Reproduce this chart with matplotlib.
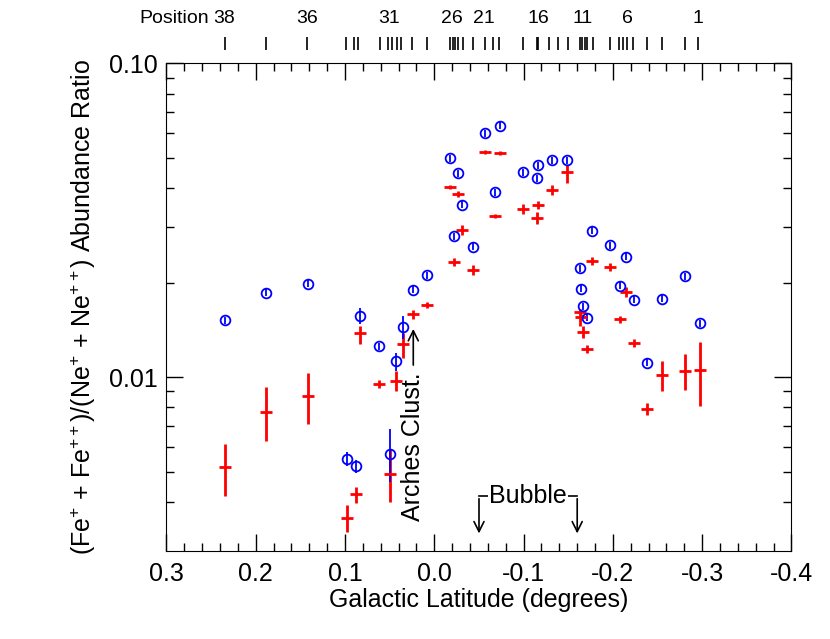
import matplotlib
matplotlib.use('Agg')
import matplotlib.pyplot as plt
from matplotlib.ticker import FixedLocator, FixedFormatter, NullFormatter, MultipleLocator

plt.rcParams['font.family'] = ['Liberation Sans', 'DejaVu Sans']
plt.rcParams['mathtext.fontset'] = 'custom'
plt.rcParams['mathtext.rm'] = 'Liberation Sans'
plt.rcParams['mathtext.it'] = 'Liberation Sans:italic'
plt.rcParams['mathtext.bf'] = 'Liberation Sans:bold'
plt.rcParams['axes.unicode_minus'] = False

# galactic latitude of positions 1..38
lat = [-0.297, -0.281, -0.255, -0.238, -0.224, -0.215, -0.208, -0.197, -0.177, -0.171,
       -0.167, -0.164, -0.163, -0.149, -0.132, -0.116, -0.115, -0.099, -0.074, -0.068,
       -0.057, -0.043, -0.031, -0.026, -0.022, -0.017, 0.008, 0.024, 0.035, 0.043,
       0.050, 0.062, 0.083, 0.088, 0.098, 0.142, 0.189, 0.235]

# blue circles
blue = [0.01485, 0.02096, 0.0178, 0.01111, 0.01763, 0.0242, 0.01957, 0.02629, 0.02928, 0.01545,
        0.01682, 0.0191, 0.02222, 0.04914, 0.04914, 0.04737, 0.04295, 0.04488, 0.06333, 0.03877,
        0.0599, 0.02604, 0.03541, 0.04467, 0.02809, 0.04986, 0.02111, 0.01897, 0.01447, 0.01124,
        0.005706, 0.01252, 0.01563, 0.005188, 0.005472, 0.01986, 0.01855, 0.01518]
blue_lo = [0.01447, 0.02043, 0.01735, 0.01083, 0.01718, 0.02359, 0.01907, 0.02562, 0.02854, 0.01506,
           0.01639, 0.01862, 0.02166, 0.0479, 0.0479, 0.04617, 0.04186, 0.04374, 0.06172, 0.03779,
           0.05838, 0.02538, 0.03451, 0.04354, 0.02738, 0.0486, 0.02057, 0.01849, 0.01318, 0.01045,
           0.004614, 0.0122, 0.01471, 0.00496, 0.00521, 0.01936, 0.01808, 0.0148]
blue_hi = [0.01524, 0.0215, 0.01826, 0.0114, 0.01809, 0.02483, 0.02008, 0.02697, 0.03004, 0.01585,
           0.01726, 0.0196, 0.0228, 0.05042, 0.05042, 0.0486, 0.04407, 0.04605, 0.06498, 0.03978,
           0.06146, 0.02672, 0.03633, 0.04583, 0.02882, 0.05116, 0.02166, 0.01946, 0.01563, 0.01196,
           0.006818, 0.01285, 0.01662, 0.00543, 0.00576, 0.02038, 0.01903, 0.01558]

# red crosses
red = [0.01053, 0.01045, 0.01012, 0.00793, 0.01287, 0.01869, 0.01526, 0.02245, 0.02342, 0.01225,
       0.01394, 0.01552, 0.0161, 0.04488, 0.03934, 0.03541, 0.03214, 0.03432, 0.05172, 0.03252,
       0.05211, 0.02196, 0.0295, 0.0384, 0.02328, 0.04021, 0.01699, 0.01583, 0.01271, 0.00974,
       0.0049, 0.00948, 0.01384, 0.00423, 0.00356, 0.00868, 0.00776, 0.00515]
red_lo = [0.00809, 0.00909, 0.00901, 0.00759, 0.0125, 0.01802, 0.01482, 0.0218, 0.02274, 0.0119,
          0.01334, 0.01518, 0.01453, 0.04153, 0.03793, 0.03439, 0.03076, 0.03309, 0.05097, 0.03205,
          0.05135, 0.02117, 0.02844, 0.03757, 0.02261, 0.03962, 0.01662, 0.01537, 0.01152, 0.00903,
          0.00399, 0.00921, 0.01278, 0.00397, 0.00321, 0.00707, 0.00625, 0.00417]
red_hi = [0.01292, 0.01181, 0.01122, 0.00829, 0.01325, 0.01939, 0.01571, 0.02312, 0.02412, 0.01261,
          0.01457, 0.01587, 0.01648, 0.04747, 0.04081, 0.03646, 0.03359, 0.0356, 0.05249, 0.033,
          0.05288, 0.02278, 0.0306, 0.03925, 0.02397, 0.0408, 0.01737, 0.0163, 0.01384, 0.01045,
          0.00589, 0.00976, 0.0146, 0.00447, 0.00391, 0.01033, 0.00932, 0.00614]

# slit position marks along the top
pos_ticks = [0.2345, 0.1886, 0.1427, 0.0993, 0.090, 0.0852, 0.0609, 0.0523, 0.0471, 0.0422,
             0.0374, 0.0254, 0.0080, -0.0175, -0.0205, -0.0234, -0.0261, -0.0324, -0.0436, -0.0567,
             -0.066, -0.0727, -0.0989, -0.1146, -0.116, -0.1287, -0.1387, -0.1499, -0.163, -0.1656,
             -0.1683, -0.1712, -0.1773, -0.1966, -0.2071, -0.2115, -0.216, -0.2227, -0.2384, -0.2545,
             -0.2806, -0.2955]
pos_label_lat = [0.235, 0.143, 0.051, -0.020, -0.056, -0.116, -0.166, -0.216, -0.295]
pos_labels = ['38', '36', '31', '26', '21', '16', '11', '6', '1']

xticks = [0.3, 0.2, 0.1, 0.0, -0.1, -0.2, -0.3, -0.4]
xticklabels = ['0.3', '0.2', '0.1', '0.0', '-0.1', '-0.2', '-0.3', '-0.4']
yticks = [0.01, 0.1]
yticklabels = ['0.01', '0.10']
yminor = [0.004, 0.005, 0.006, 0.007, 0.008, 0.009, 0.02, 0.03, 0.04, 0.05, 0.06, 0.07, 0.08, 0.09]

fig = plt.figure(figsize=(8.3, 6.39), dpi=100)
ax = fig.add_axes([0.2006, 0.1377, 0.753, 0.7632])

blue_err = [[b - l for b, l in zip(blue, blue_lo)], [h - b for b, h in zip(blue, blue_hi)]]
red_err = [[r - l for r, l in zip(red, red_lo)], [h - r for r, h in zip(red, red_hi)]]

ax.errorbar(lat, red, yerr=red_err, fmt='_', color='red', ms=9, mew=2,
            elinewidth=2, capsize=0)
ax.errorbar(lat, blue, yerr=blue_err, fmt='o', mfc='none', mec='blue', ecolor='blue',
            ms=7, mew=1.3, elinewidth=1.3, capsize=0)

ax.set_yscale('log')
ax.set_xlim(0.3, -0.4)
ax.set_ylim(0.00279, 0.1)

ax.xaxis.set_major_locator(FixedLocator(xticks))
ax.xaxis.set_major_formatter(FixedFormatter(xticklabels))
ax.xaxis.set_minor_locator(MultipleLocator(0.02))
ax.yaxis.set_major_locator(FixedLocator(yticks))
ax.yaxis.set_major_formatter(FixedFormatter(yticklabels))
ax.yaxis.set_minor_locator(FixedLocator(yminor))
ax.yaxis.set_minor_formatter(NullFormatter())

ax.tick_params(which='both', direction='in', top=True, right=True, width=1)
ax.tick_params(which='major', length=12, labelsize=18)
ax.tick_params(axis='x', which='major', pad=8)
ax.tick_params(axis='y', which='major', pad=6)
ax.tick_params(which='minor', length=6)

ax.set_xlabel('Galactic Latitude (degrees)', fontsize=18, labelpad=1)
ax.set_ylabel(r'(Fe$^{+}$ + Fe$^{++}$)/(Ne$^{+}$ + Ne$^{++}$) Abundance Ratio',
              fontsize=18, labelpad=8)

# Arches cluster marker
ax.text(0.0236, 0.00348, 'Arches Clust.', rotation=90, ha='center', va='bottom', fontsize=18)
ax.annotate('', xy=(0.0236, 0.01453), xytext=(0.0236, 0.0107),
            arrowprops=dict(arrowstyle='->', color='black', lw=1.2, mutation_scale=18))

# Bubble bracket
ax.plot([-0.05, -0.16], [0.00417, 0.00417], color='black', lw=1.2)
ax.text(-0.105, 0.00417, 'Bubble', ha='center', va='center', fontsize=18,
        bbox=dict(facecolor='white', edgecolor='none', pad=1))
for bx in [-0.05, -0.16]:
    ax.annotate('', xy=(bx, 0.00311), xytext=(bx, 0.00418),
                arrowprops=dict(arrowstyle='->', color='black', lw=1.2, mutation_scale=18))

# position marks above the plot
axt = fig.add_axes([0.2006, 0.9218, 0.753, 0.0203])
axt.set_xlim(0.3, -0.4)
axt.set_ylim(0, 1)
axt.vlines(pos_ticks, 0, 1, color='black', lw=1.2)
for x, t in zip(pos_label_lat, pos_labels):
    axt.text(x, 2.45, t, ha='center', va='center', fontsize=14)
axt.text(0.2524, 2.45, 'Position', ha='right', va='center', fontsize=14)
axt.axis('off')

fig.savefig('out.png', dpi=100, facecolor='white')
